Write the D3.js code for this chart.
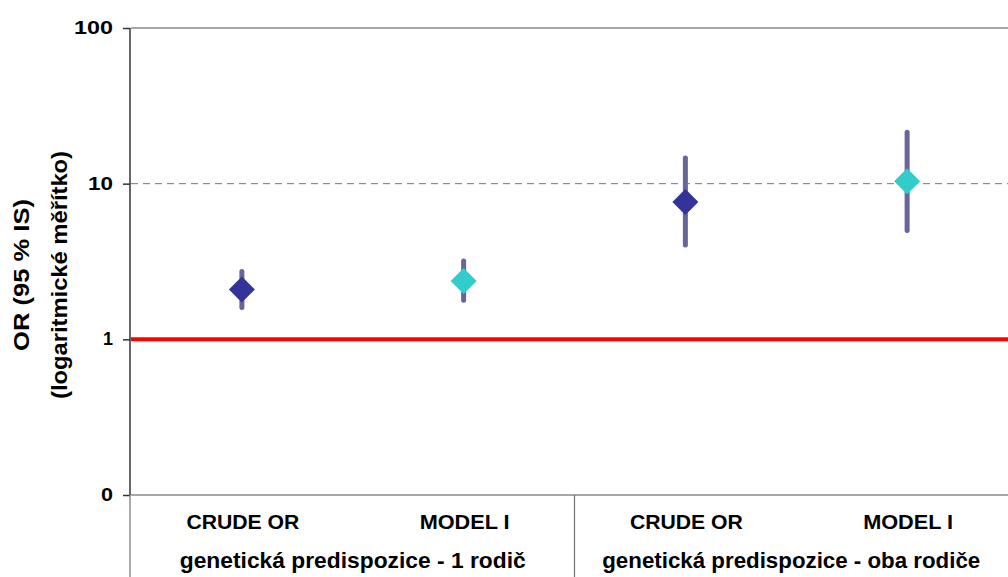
<!DOCTYPE html>
<html>
<head>
<meta charset="utf-8">
<script src="https://cdn.jsdelivr.net/npm/d3@7"></script>
<style>
  body { margin: 0; background: #fff; }
  text { font-family: 'Liberation Sans', Arial, sans-serif; font-weight: bold; fill: #000; }
</style>
</head>
<body>
<script>
var width = 1008
var height = 577

// data
var groups = ['genetická predispozice - 1 rodič', 'genetická predispozice - oba rodiče']
var models = ['CRUDE OR', 'MODEL I']
var pointIds = ['g1-crude', 'g1-model', 'g2-crude', 'g2-model']
var orValues = [2.09, 2.37, 7.62, 10.35]
var ciLow = [1.60, 1.78, 4.03, 5.0]
var ciHigh = [2.73, 3.18, 14.6, 21.4]
var tickValues = [0.1, 1, 10, 100]
var tickLabels = ['0', '1', '10', '100']

var colours = ['#333399', '#33CCCC']

var svg = d3.select('body').append('svg')
  .attr('width', width)
  .attr('height', height)

var y = d3.scaleLog()
  .domain([0.1, 100])
  .range([495, 28])

var x = d3.scaleBand()
  .domain(pointIds)
  .range([131, 1018])

var left = x.range()[0]
var sep = x(pointIds[2])

// dashed reference at 10
svg.append('line')
  .attr('x1', left).attr('x2', width)
  .attr('y1', y(10)).attr('y2', y(10))
  .attr('stroke', '#7070c0')
  .attr('stroke-width', 1)
  .attr('stroke-dasharray', '7,5')

// top border and bottom axis
svg.append('line')
  .attr('x1', left).attr('x2', width)
  .attr('y1', y(100)).attr('y2', y(100))
  .attr('stroke', '#8a8a8a').attr('stroke-width', 1.5)
svg.append('line')
  .attr('x1', left).attr('x2', width)
  .attr('y1', y(0.1)).attr('y2', y(0.1))
  .attr('stroke', '#8a8a8a').attr('stroke-width', 1.5)

// category separator below the plot
svg.append('line')
  .attr('x1', sep).attr('x2', sep)
  .attr('y1', y(0.1)).attr('y2', height)
  .attr('stroke', '#707070').attr('stroke-width', 1.2)

// y axis
var yAxis = d3.axisLeft(y)
  .tickValues(tickValues)
  .tickSize(7)
  .tickFormat(function (d, i) { return tickLabels[i] })

var gy = svg.append('g')
  .attr('transform', 'translate(' + (left - 1) + ',0)')
  .call(yAxis)
gy.select('.domain').remove()
gy.selectAll('.tick line').attr('stroke', '#333').attr('stroke-width', 1.5)
gy.selectAll('.tick text')
  .attr('x', -17)
  .attr('dy', '0.3em')
  .attr('font-size', 18)
  .attr('fill', '#000')
  .attr('font-family', null)
  .each(function (d, i) {
    var lens = [12, 10, 25, 39]
    d3.select(this).attr('textLength', lens[i]).attr('lengthAdjust', 'spacingAndGlyphs')
  })

svg.append('line')
  .attr('x1', left - 1).attr('x2', left - 1)
  .attr('y1', y(100)).attr('y2', y(0.1))
  .attr('stroke', '#333').attr('stroke-width', 1.5)
svg.append('line')
  .attr('x1', left - 1).attr('x2', left - 1)
  .attr('y1', y(0.1)).attr('y2', height)
  .attr('stroke', '#707070').attr('stroke-width', 1.2)

// red line at OR = 1
svg.append('line')
  .attr('x1', left).attr('x2', width)
  .attr('y1', y(1)).attr('y2', y(1))
  .attr('stroke', '#ff0000')
  .attr('stroke-width', 4)

// confidence intervals
svg.selectAll('.ci')
  .data(pointIds)
  .enter().append('line')
  .attr('class', 'ci')
  .attr('x1', function (d) { return x(d) + x.bandwidth() / 2 })
  .attr('x2', function (d) { return x(d) + x.bandwidth() / 2 })
  .attr('y1', function (d, i) { return y(ciLow[i]) })
  .attr('y2', function (d, i) { return y(ciHigh[i]) })
  .attr('stroke', '#666699')
  .attr('stroke-width', 5)
  .attr('stroke-linecap', 'round')

// diamonds
var diamond = d3.symbol().type(d3.symbolSquare).size(338)
svg.selectAll('.pt')
  .data(pointIds)
  .enter().append('path')
  .attr('class', 'pt')
  .attr('d', diamond)
  .attr('transform', function (d, i) {
    return 'translate(' + (x(d) + x.bandwidth() / 2) + ',' + y(orValues[i]) + ') rotate(45)'
  })
  .attr('fill', function (d, i) { return colours[i % 2] })

// category labels
var modelLens = [113, 90]
svg.selectAll('.cat')
  .data(pointIds)
  .enter().append('text')
  .attr('class', 'cat')
  .attr('x', function (d) { return x(d) + x.bandwidth() / 2 + 1 })
  .attr('y', 529)
  .attr('text-anchor', 'middle')
  .attr('font-size', 21)
  .attr('textLength', function (d, i) { return modelLens[i % 2] })
  .attr('lengthAdjust', 'spacingAndGlyphs')
  .text(function (d, i) { return models[i % 2] })

var groupLens = [346, 378]
svg.selectAll('.grp')
  .data(groups)
  .enter().append('text')
  .attr('class', 'grp')
  .attr('x', function (d, i) {
    var x0 = x(pointIds[i * 2])
    var x1 = Math.min(x(pointIds[i * 2 + 1]) + x.bandwidth(), width)
    return (x0 + x1) / 2
  })
  .attr('y', 568)
  .attr('text-anchor', 'middle')
  .attr('font-size', 22)
  .attr('textLength', function (d, i) { return groupLens[i] })
  .attr('lengthAdjust', 'spacingAndGlyphs')
  .text(function (d) { return d })

// y axis title
var title = svg.append('g')
  .attr('transform', 'translate(0,275) rotate(-90)')
title.append('text')
  .attr('x', 0).attr('y', 29)
  .attr('text-anchor', 'middle')
  .attr('font-size', 22)
  .attr('textLength', 152)
  .attr('lengthAdjust', 'spacingAndGlyphs')
  .text('OR (95 % IS)')
title.append('text')
  .attr('x', 0).attr('y', 67)
  .attr('text-anchor', 'middle')
  .attr('font-size', 22)
  .attr('textLength', 248)
  .attr('lengthAdjust', 'spacingAndGlyphs')
  .text('(logaritmické měřítko)')
</script>
</body>
</html>
